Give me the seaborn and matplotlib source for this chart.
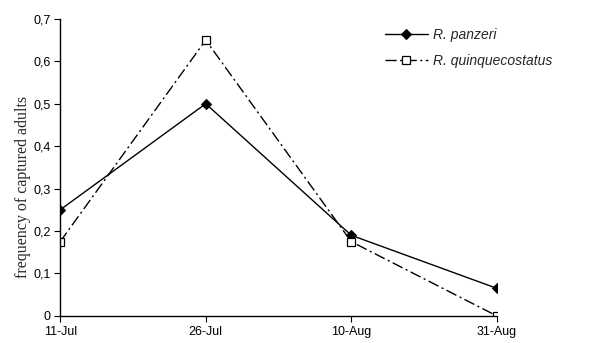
import matplotlib
matplotlib.use("Agg")
import matplotlib.pyplot as plt
import seaborn as sns
import pandas as pd

dates = ["11-Jul", "26-Jul", "10-Aug", "31-Aug"]
panzeri = [0.25, 0.50, 0.19, 0.065]
quinque = [0.175, 0.65, 0.175, 0.0]
series_names = ["R. panzeri", "R. quinquecostatus"]
yticks = [0, 0.1, 0.2, 0.3, 0.4, 0.5, 0.6, 0.7]

sns.set_theme(style="white")
plt.rcParams["font.family"] = ["Liberation Sans", "DejaVu Sans"]

df = pd.DataFrame({
    "pos": list(range(len(dates))) * 2,
    "value": panzeri + quinque,
    "species": [series_names[0]] * len(dates) + [series_names[1]] * len(dates),
})

fig = plt.figure(figsize=(5.90, 3.43), dpi=100)
ax = fig.add_axes([0.102, 0.079, 0.740, 0.866])

sns.lineplot(data=df, x="pos", y="value", hue="species", style="species",
             palette=["black", "black"], markers=["D", "s"],
             dashes=[(None, None), (8, 2.5, 1.5, 2.5)], linewidth=1.0,
             ax=ax, legend=True)

for line in ax.lines:
    if line.get_marker() == "s":
        line.set_markerfacecolor("white")
        line.set_markeredgecolor("black")
        line.set_markersize(6)
        line.set_markeredgewidth(0.9)
    elif line.get_marker() == "D":
        line.set_markerfacecolor("black")
        line.set_markeredgecolor("black")
        line.set_markersize(5)

ax.set_xlim(0, len(dates) - 1)
ax.set_ylim(0, 0.7)
ax.set_xticks(range(len(dates)))
ax.set_xticklabels(dates, fontsize=9)
ax.set_yticks(yticks)
ax.set_yticklabels([("0" if v == 0 else f"{v:.1f}".replace(".", ",")) for v in yticks], fontsize=9)
ax.set_xlabel("")
ax.set_ylabel("")
for s in ["top", "right"]:
    ax.spines[s].set_visible(False)
for s in ["left", "bottom"]:
    ax.spines[s].set_color("black")
    ax.spines[s].set_linewidth(1.0)
ax.tick_params(axis="both", direction="out", length=4, width=0.8, color="black",
               left=True, bottom=True, pad=3, labelcolor="black")
ax.tick_params(axis="x", pad=3)

fig.text(0.039, 0.455, "frequency of captured adults", rotation=90,
         ha="center", va="center", fontsize=11.5, family="Liberation Serif")

leg = ax.legend(loc="upper left", bbox_to_anchor=(0.715, 1.012), frameon=False,
                handlelength=3.1, fontsize=10, labelspacing=0.85, handletextpad=0.4)
for t in leg.get_texts():
    t.set_fontstyle("italic")

fig.savefig("out.png", dpi=100)
